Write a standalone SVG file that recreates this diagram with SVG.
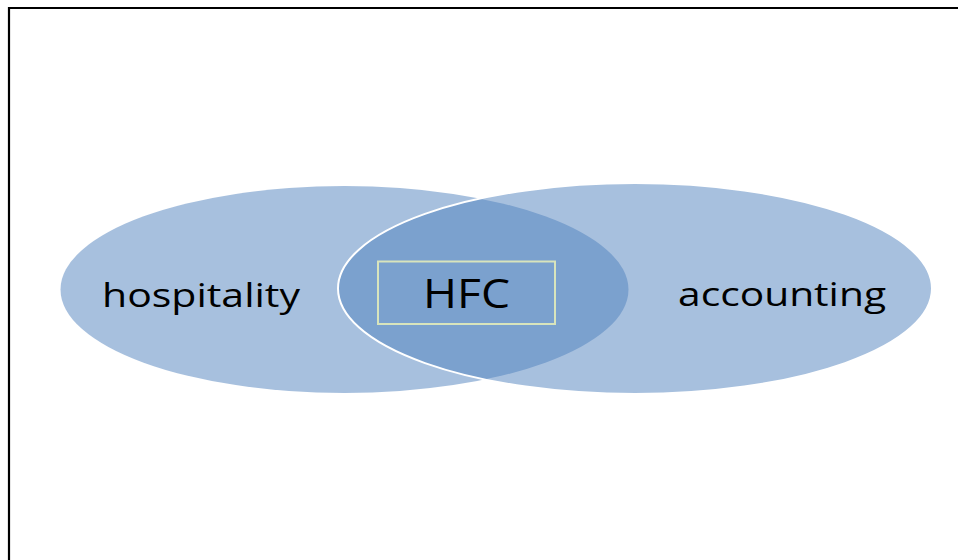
<svg xmlns="http://www.w3.org/2000/svg" width="958" height="560" viewBox="0 0 958 560">
<style>
.lbl{font-family:"Open Sans","Noto Sans","Liberation Sans",sans-serif;fill:#000;}
.set{fill:#4f81bd;fill-opacity:0.5;}
</style>
<rect x="0" y="0" width="958" height="560" fill="#fff"/>
<path d="M9 560 V8 H958" fill="none" stroke="#000" stroke-width="2.2"/>
<g id="hospitality">
<ellipse class="set" cx="344.5" cy="289.5" rx="284" ry="103.5"/>
<text class="lbl" x="102" y="306.5" font-size="33" textLength="198" lengthAdjust="spacingAndGlyphs">hospitality</text>
</g>
<g id="accounting">
<ellipse class="set" cx="635" cy="288.5" rx="297" ry="105.5" stroke="#fff" stroke-width="2"/>
<text class="lbl" x="678" y="305.5" font-size="33" textLength="208" lengthAdjust="spacingAndGlyphs">accounting</text>
</g>
<g id="HFC">
<rect x="378" y="261.5" width="177" height="62.5" fill="none" stroke="#d8e4bc" stroke-width="2"/>
<text class="lbl" x="423" y="307.5" font-size="40" textLength="87" lengthAdjust="spacingAndGlyphs">HFC</text>
</g>
<g id="connectors"/>
</svg>
